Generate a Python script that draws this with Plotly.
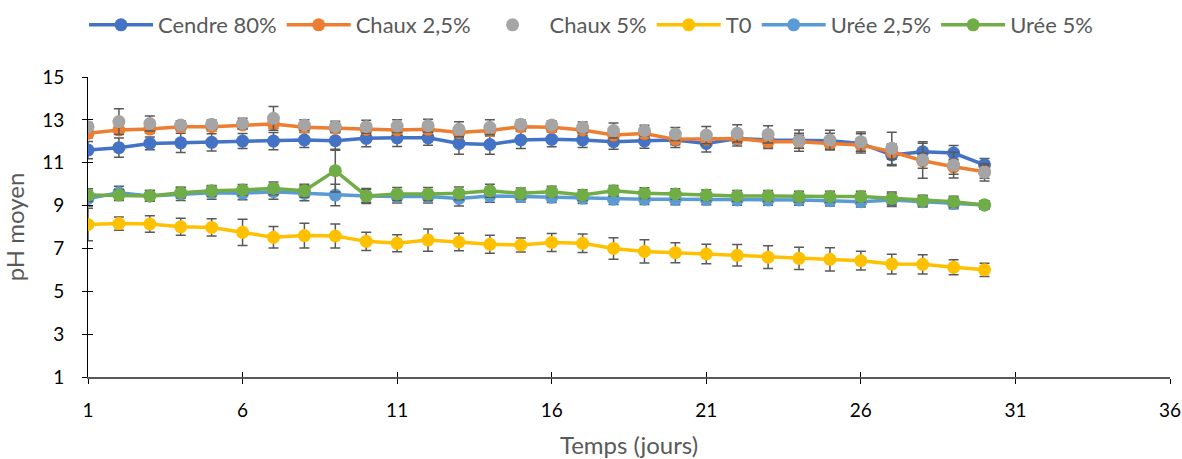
import plotly.graph_objects as go

# Days of measurement
days = list(range(1, 31))

# Mean pH per treatment
cendre_80 = [11.59, 11.70, 11.90, 11.93, 11.95, 12.01, 12.01, 12.06, 12.03, 12.14,
             12.16, 12.16, 11.90, 11.85, 12.06, 12.09, 12.06, 11.98, 12.02, 12.06,
             11.90, 12.13, 12.06, 12.03, 12.03, 11.90, 11.36, 11.51, 11.45, 10.90]
chaux_25 = [12.37, 12.53, 12.57, 12.68, 12.68, 12.76, 12.81, 12.65, 12.60, 12.55,
            12.53, 12.56, 12.41, 12.50, 12.68, 12.65, 12.53, 12.29, 12.36, 12.09,
            12.09, 12.13, 11.98, 11.98, 11.90, 11.83, 11.51, 11.09, 10.81, 10.58]
chaux_5 = [12.68, 12.92, 12.83, 12.76, 12.79, 12.83, 13.07, 12.76, 12.68, 12.68,
           12.71, 12.73, 12.56, 12.65, 12.79, 12.76, 12.65, 12.50, 12.50, 12.34,
           12.29, 12.37, 12.32, 12.03, 12.06, 11.98, 11.67, 11.13, 10.89, 10.55]
t0 = [8.12, 8.16, 8.14, 8.01, 7.98, 7.75, 7.52, 7.60, 7.58, 7.33,
      7.24, 7.39, 7.30, 7.19, 7.16, 7.28, 7.24, 7.00, 6.86, 6.80,
      6.74, 6.68, 6.59, 6.54, 6.49, 6.43, 6.27, 6.26, 6.12, 6.00]
uree_25 = [9.33, 9.60, 9.45, 9.54, 9.60, 9.57, 9.65, 9.57, 9.49, 9.45,
           9.42, 9.42, 9.33, 9.45, 9.42, 9.39, 9.35, 9.30, 9.30, 9.29,
           9.29, 9.26, 9.26, 9.26, 9.23, 9.18, 9.26, 9.18, 9.10, 9.03]
uree_5 = [9.49, 9.49, 9.45, 9.60, 9.69, 9.73, 9.80, 9.69, 10.63, 9.45,
          9.54, 9.54, 9.57, 9.69, 9.57, 9.65, 9.49, 9.69, 9.58, 9.54,
          9.49, 9.45, 9.45, 9.42, 9.42, 9.42, 9.33, 9.23, 9.18, 9.03]

# Standard deviations
cendre_80_sd = [0.40, 0.45, 0.30, 0.45, 0.40, 0.35, 0.40, 0.35, 0.45, 0.40,
                0.40, 0.35, 0.50, 0.45, 0.40, 0.35, 0.35, 0.35, 0.35, 0.35,
                0.40, 0.35, 0.40, 0.35, 0.35, 0.45, 0.50, 0.40, 0.35, 0.30]
chaux_25_sd = [0.20, 0.20, 0.20, 0.20, 0.20, 0.20, 0.20, 0.20, 0.20, 0.25,
               0.25, 0.25, 0.25, 0.25, 0.20, 0.20, 0.25, 0.25, 0.25, 0.25,
               0.25, 0.25, 0.25, 0.30, 0.30, 0.30, 0.35, 0.35, 0.35, 0.30]
chaux_5_sd = [0.20, 0.60, 0.35, 0.20, 0.20, 0.25, 0.55, 0.25, 0.25, 0.30,
              0.30, 0.30, 0.35, 0.35, 0.20, 0.20, 0.25, 0.35, 0.25, 0.30,
              0.40, 0.40, 0.40, 0.50, 0.45, 0.45, 0.75, 0.85, 0.60, 0.40]
t0_sd = [0.76, 0.31, 0.39, 0.40, 0.40, 0.61, 0.50, 0.58, 0.56, 0.43,
         0.40, 0.52, 0.41, 0.42, 0.33, 0.42, 0.43, 0.50, 0.54, 0.47,
         0.45, 0.50, 0.53, 0.52, 0.54, 0.44, 0.46, 0.45, 0.35, 0.31]
uree_25_sd = [0.35, 0.30, 0.25, 0.30, 0.30, 0.30, 0.35, 0.35, 0.50, 0.35,
              0.30, 0.30, 0.35, 0.30, 0.25, 0.25, 0.25, 0.25, 0.25, 0.25,
              0.25, 0.25, 0.25, 0.25, 0.25, 0.25, 0.30, 0.25, 0.25, 0.20]
uree_5_sd = [0.30, 0.25, 0.25, 0.25, 0.25, 0.25, 0.30, 0.30, 1.00, 0.30,
             0.30, 0.30, 0.30, 0.30, 0.25, 0.25, 0.25, 0.25, 0.25, 0.25,
             0.25, 0.25, 0.25, 0.25, 0.25, 0.25, 0.30, 0.25, 0.25, 0.20]

series = [
    ("Cendre 80%", cendre_80, cendre_80_sd, "#4472C4", True),
    ("Chaux 2,5%", chaux_25, chaux_25_sd, "#ED7D31", True),
    ("Chaux 5%", chaux_5, chaux_5_sd, "#A5A5A5", False),
    ("T0", t0, t0_sd, "#FFC000", True),
    ("Urée 2,5%", uree_25, uree_25_sd, "#5B9BD5", True),
    ("Urée 5%", uree_5, uree_5_sd, "#70AD47", True),
]

FONT = "Lato, 'Open Sans', sans-serif"
fig = go.Figure()

for name, vals, sd, color, with_line in series:
    fig.add_trace(go.Scatter(
        x=days, y=vals, name=name,
        mode="lines+markers" if with_line else "markers",
        line=dict(color=color, width=3.5),
        marker=dict(color=color, size=13),
        error_y=dict(type="data", array=sd, visible=True,
                     color="#595959", thickness=1.5, width=5),
    ))

# Companion axes carrying the inner half of the cross tick marks
fig.add_trace(go.Scatter(x=[], y=[], xaxis="x2", yaxis="y2",
                         showlegend=False, hoverinfo="skip"))

x_range = [1, 36]
y_range = [1, 15]

fig.update_layout(
    width=1182, height=459,
    margin=dict(l=88, r=12, t=77, b=82),
    paper_bgcolor="white", plot_bgcolor="white",
    font=dict(family=FONT, color="#000000"),
    showlegend=True,
    legend=dict(
        orientation="h", xref="container", yref="container",
        x=0.5, xanchor="center", y=1 - 25 / 459, yanchor="middle",
        font=dict(size=22, color="#595959", family=FONT),
        itemwidth=64,
    ),
    xaxis=dict(
        range=x_range, dtick=5, tick0=1, showgrid=False, zeroline=False,
        automargin=False,
        showline=True, linecolor="#595959", linewidth=1.5,
        ticks="outside", ticklen=5, tickcolor="#000000", tickwidth=1,
        ticklabelstandoff=10,
        tickfont=dict(size=19, color="#000000"),
        title=dict(text="Temps (jours)", font=dict(size=24, color="#595959"),
                   standoff=18),
    ),
    yaxis=dict(
        range=y_range, dtick=2, tick0=1, showgrid=False, zeroline=False,
        automargin=False,
        showline=True, linecolor="#000000", linewidth=1,
        ticks="outside", ticklen=5, tickcolor="#000000", tickwidth=1,
        ticklabelstandoff=14,
        tickfont=dict(size=19, color="#000000"),
        title=dict(text="pH moyen", font=dict(size=24, color="#595959"),
                   standoff=10),
    ),
    xaxis2=dict(
        range=x_range, dtick=5, tick0=1, overlaying="x", anchor="y2",
        showgrid=False, zeroline=False, showline=False, showticklabels=False,
        ticks="inside", ticklen=5, tickcolor="#000000", tickwidth=1,
    ),
    yaxis2=dict(
        range=y_range, dtick=2, tick0=1, overlaying="y", anchor="x2",
        showgrid=False, zeroline=False, showline=False, showticklabels=False,
        ticks="inside", ticklen=5, tickcolor="#000000", tickwidth=1,
    ),
)

fig.write_html("out.html")
